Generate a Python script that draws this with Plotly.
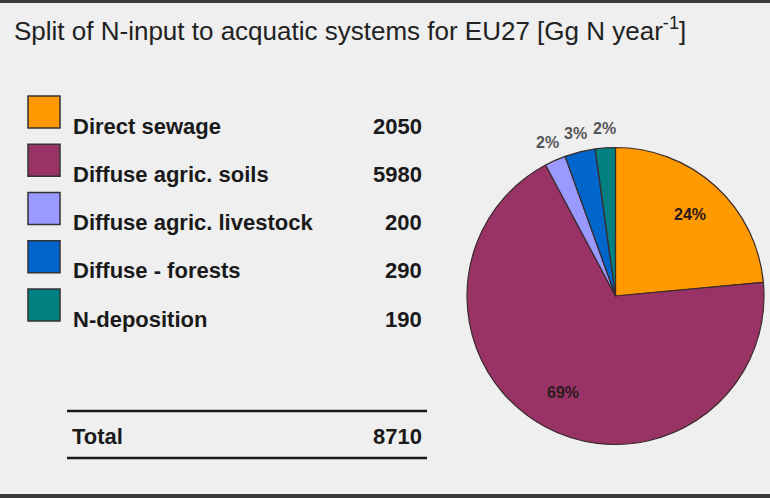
import math
import plotly.graph_objects as go

# ---- data ----
categories = ["Direct sewage", "Diffuse agric. soils", "Diffuse agric. livestock",
              "Diffuse - forests", "N-deposition"]
values = [2050, 5980, 200, 290, 190]
total_label = "Total"
total_value = 8710
colors = ["#FF9900", "#993366", "#9999FF", "#0066CC", "#008080"]
label_inside = [True, True, False, False, False]
title_text = "Split of N-input to acquatic systems for EU27 [Gg N year<sup>-1</sup>]"

W, H = 770, 498
BG = "#efefef"
FONT = "Liberation Sans, Arial, sans-serif"


def px(x):
    return x / W


def py(y):
    return 1 - y / H


# pie placement (pixels)
PIE_L, PIE_R, PIE_T, PIE_B = 467, 764, 146, 446
cx, cy = (PIE_L + PIE_R) / 2, (PIE_T + PIE_B) / 2
rad = min(PIE_R - PIE_L, PIE_B - PIE_T) / 2

fig = go.Figure()

fig.add_trace(go.Pie(
    labels=categories,
    values=values,
    marker=dict(colors=colors, line=dict(color="#3a2a2a", width=1.2)),
    sort=False,
    direction="clockwise",
    rotation=0,
    textinfo="none",
    domain=dict(x=[px(PIE_L), px(PIE_R)], y=[py(PIE_B), py(PIE_T)]),
    showlegend=False,
    hoverinfo="label+value+percent",
))

shapes = []
annotations = []

# percentage labels placed from the slice mid-angles
tot = sum(values)
cum = 0.0
for val, inside in zip(values, label_inside):
    mid = (cum + val / 2) / tot * 2 * math.pi
    cum += val
    rf = 0.74 if inside else 1.13
    lx = cx + rf * rad * math.sin(mid)
    ly = cy - rf * rad * math.cos(mid)
    annotations.append(dict(
        xref="paper", yref="paper", x=px(lx), y=py(ly),
        xanchor="center", yanchor="middle", showarrow=False,
        text=f"{round(100 * val / tot)}%",
        font=dict(family=FONT, size=16, weight="bold",
                  color="#2a1a1a" if inside else "#555555")))

# frame lines top and bottom
shapes.append(dict(type="rect", xref="paper", yref="paper", x0=0, x1=1,
                   y0=py(3), y1=1, fillcolor="#3a3a3a", line=dict(width=0)))
shapes.append(dict(type="rect", xref="paper", yref="paper", x0=0, x1=1,
                   y0=0, y1=py(494), fillcolor="#3a3a3a", line=dict(width=0)))

# title
annotations.append(dict(xref="paper", yref="paper", x=px(12), y=py(29),
                        xanchor="left", yanchor="middle", showarrow=False,
                        text=title_text,
                        font=dict(family=FONT, size=26, color="#222222")))

# legend table
row0, step = 112, 48.25
for i, (cat, val, col) in enumerate(zip(categories, values, colors)):
    yc = row0 + i * step
    shapes.append(dict(type="rect", xref="paper", yref="paper",
                       x0=px(28), x1=px(60), y0=py(yc + 16), y1=py(yc - 16),
                       fillcolor=col, line=dict(color="#333333", width=1.5)))
    annotations.append(dict(xref="paper", yref="paper", x=px(71), y=py(yc + 14),
                            xanchor="left", yanchor="middle", showarrow=False,
                            text=cat,
                            font=dict(family=FONT, size=22, color="#1a1a1a", weight="bold")))
    annotations.append(dict(xref="paper", yref="paper", x=px(424), y=py(yc + 14),
                            xanchor="right", yanchor="middle", showarrow=False,
                            text=str(val),
                            font=dict(family=FONT, size=22, color="#1a1a1a", weight="bold")))

# total row
for yl in (411, 458):
    shapes.append(dict(type="line", xref="paper", yref="paper",
                       x0=px(67), x1=px(427), y0=py(yl), y1=py(yl),
                       line=dict(color="#1a1a1a", width=2.5)))
annotations.append(dict(xref="paper", yref="paper", x=px(70), y=py(436),
                        xanchor="left", yanchor="middle", showarrow=False,
                        text=total_label,
                        font=dict(family=FONT, size=22, color="#1a1a1a", weight="bold")))
annotations.append(dict(xref="paper", yref="paper", x=px(424), y=py(436),
                        xanchor="right", yanchor="middle", showarrow=False,
                        text=str(total_value),
                        font=dict(family=FONT, size=22, color="#1a1a1a", weight="bold")))

fig.update_layout(
    width=W, height=H,
    margin=dict(l=0, r=0, t=0, b=0),
    paper_bgcolor=BG, plot_bgcolor=BG,
    shapes=shapes, annotations=annotations,
    font=dict(family=FONT),
)

fig.write_html("out.html",
               config={"displayModeBar": False},
               post_script="document.body.style.margin='0';document.body.style.overflow='hidden';")
